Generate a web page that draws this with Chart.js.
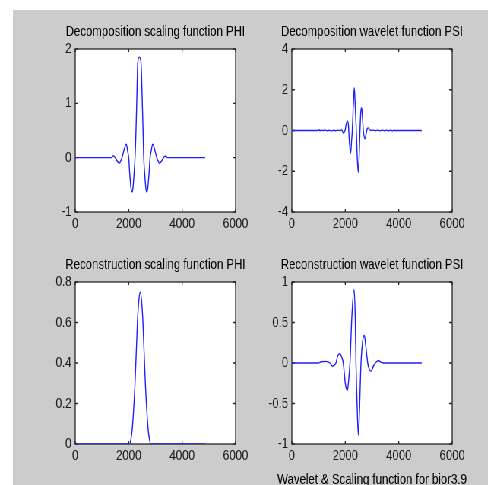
<!DOCTYPE html>
<html>
<head>
<meta charset="utf-8">
<script src="https://cdn.jsdelivr.net/npm/chart.js@4/dist/chart.umd.min.js"></script>
<style>
  html, body { margin: 0; padding: 0; background: #fff; overflow: hidden; width: 488px; height: 485px; }
  #bg { position: absolute; left: 13px; top: 10px; right: 0; bottom: 0; background: #cccccc; }
  /* the whole figure is squeezed horizontally, like the reference */
  #fig { position: absolute; left: 0; top: 0; width: 680px; height: 485px; transform: scaleX(0.76); transform-origin: 0 0; }
  #fig canvas { position: absolute; }
</style>
</head>
<body>
<div id="bg"></div>
<div id="fig">
  <canvas id="c1" width="331" height="249" style="left:39px;top:9px"></canvas>
  <canvas id="c2" width="331" height="249" style="left:324px;top:9px"></canvas>
  <canvas id="c3" width="331" height="248" style="left:39px;top:242px"></canvas>
  <canvas id="c4" width="331" height="248" style="left:324px;top:242px"></canvas>
</div>
<script>
// x ticks are shared by all four panels
const xTicks = [0, 2000, 4000, 6000];

// Decomposition scaling function PHI
const phiDecX = [0, 1350, 1413, 1500, 1580, 1650, 1700, 1750, 1840, 1912, 1960, 2000, 2040, 2090, 2125, 2160, 2200, 2237, 2270, 2300, 2340, 2400, 2460, 2510, 2540, 2563, 2600, 2640, 2675, 2710, 2760, 2800, 2840, 2900, 2960, 3050, 3100, 3150, 3220, 3300, 3390, 3450, 4860];
const phiDecY = [0, 0, 0.03, 0, -0.07, -0.1, -0.06, 0, 0.17, 0.25, 0.12, 0, -0.3, -0.58, -0.63, -0.55, -0.3, 0, 0.45, 1.0, 1.75, 1.85, 1.75, 1.0, 0.45, 0, -0.3, -0.55, -0.63, -0.58, -0.3, 0, 0.12, 0.25, 0.17, 0, -0.06, -0.1, -0.07, 0, 0.03, 0, 0];
const phiDecTicks = [-1, 0, 1, 2];

// Decomposition wavelet function PSI
const psiDecX = [0, 980, 1020, 1060, 1100, 1150, 1250, 1320, 1400, 1480, 1560, 1640, 1720, 1800, 1870, 1925, 1990, 2040, 2087, 2120, 2150, 2200, 2230, 2262, 2300, 2337, 2370, 2412, 2450, 2487, 2520, 2550, 2580, 2612, 2645, 2675, 2737, 2780, 2820, 2862, 2900, 2960, 3050, 3130, 3200, 3300, 3380, 3460, 3540, 3620, 3700, 3760, 3800, 3830, 4860];
const psiDecY = [0, 0, 0.04, -0.02, 0.03, 0, 0.02, -0.015, 0.015, -0.02, 0.015, -0.015, 0.02, -0.01, 0.03, -0.12, 0, 0.35, 0.46, 0.2, -0.5, -1.12, -0.6, 0, 1.2, 2.1, 1.3, 0, -1.4, -2.06, -1.2, 0, 0.9, 1.12, 0.6, 0, -0.41, -0.15, 0.08, 0.13, 0.05, 0.01, 0.02, -0.01, 0.02, -0.015, 0.02, -0.015, 0.02, -0.02, 0.03, -0.03, 0.02, 0, 0];
const psiDecTicks = [-4, -2, 0, 2, 4];

// Reconstruction scaling function PHI
const phiRecX = [0, 2030, 2080, 2130, 2180, 2230, 2297, 2330, 2380, 2430, 2480, 2530, 2563, 2630, 2680, 2730, 2780, 2830, 4860];
const phiRecY = [0, 0, 0.02, 0.07, 0.16, 0.28, 0.5, 0.61, 0.71, 0.75, 0.71, 0.61, 0.5, 0.28, 0.16, 0.07, 0.02, 0, 0];
const phiRecTicks = [0, 0.2, 0.4, 0.6, 0.8];

// Reconstruction wavelet function PSI
const psiRecX = [0, 990, 1100, 1250, 1380, 1450, 1520, 1580, 1650, 1720, 1800, 1870, 1925, 2000, 2075, 2130, 2175, 2250, 2325, 2370, 2400, 2450, 2488, 2530, 2588, 2650, 2713, 2770, 2838, 2900, 2963, 3050, 3125, 3238, 3330, 3425, 4860];
const psiRecY = [0, 0, 0.015, 0.02, 0.01, -0.01, -0.04, -0.03, 0, 0.09, 0.115, 0.07, 0, -0.25, -0.34, -0.2, 0, 0.6, 0.906, 0.6, 0, -0.6, -0.89, -0.6, 0, 0.27, 0.34, 0.2, 0, -0.08, -0.1, -0.04, 0, 0.03, 0.01, 0, 0];
const psiRecTicks = [-1, -0.5, 0, 0.5, 1];

const FONT = '"Liberation Sans", Arial, Helvetica, sans-serif';

// white plot box with inward tick marks, MATLAB style
const boxPlugin = {
  id: 'box',
  beforeDatasetsDraw(chart) {
    const { ctx, chartArea: a, scales } = chart;
    ctx.save();
    ctx.fillStyle = '#fff';
    ctx.fillRect(a.left, a.top, a.width, a.height);
    ctx.strokeStyle = '#262626';
    ctx.lineWidth = 1.3;
    ctx.strokeRect(a.left, a.top, a.width, a.height);
    ctx.beginPath();
    scales.x.ticks.forEach(t => {
      const px = scales.x.getPixelForValue(t.value);
      ctx.moveTo(px, a.bottom); ctx.lineTo(px, a.bottom - 3);
      ctx.moveTo(px, a.top); ctx.lineTo(px, a.top + 3);
    });
    scales.y.ticks.forEach(t => {
      const py = scales.y.getPixelForValue(t.value);
      ctx.moveTo(a.left, py); ctx.lineTo(a.left + 4, py);
      ctx.moveTo(a.right, py); ctx.lineTo(a.right - 4, py);
    });
    ctx.stroke();
    ctx.restore();
  }
};

function makeChart(id, title, xs, ys, yTicks, xTitle) {
  const pts = xs.map((x, i) => ({ x: x, y: ys[i] }));
  return new Chart(document.getElementById(id), {
    type: 'line',
    data: {
      datasets: [{
        data: pts,
        borderColor: '#1f1fff',
        borderWidth: 1.4,
        pointRadius: 0,
        cubicInterpolationMode: 'monotone',
        fill: false
      }]
    },
    options: {
      responsive: false,
      animation: false,
      layout: { autoPadding: false },
      plugins: {
        legend: { display: false },
        tooltip: { enabled: false },
        title: {
          display: true,
          text: title,
          color: '#000',
          font: { family: FONT, size: 15, weight: 'normal' },
          padding: { top: 14, bottom: 8 }
        },
        subtitle: {
          display: !!xTitle,
          position: 'bottom',
          text: xTitle || '',
          color: '#000',
          font: { family: FONT, size: 15, weight: 'normal', lineHeight: '20px' },
          padding: 0
        }
      },
      scales: {
        x: {
          type: 'linear',
          min: xTicks[0],
          max: xTicks[xTicks.length - 1],
          afterFit: s => { s.height = xTitle ? 26 : 46; },
          afterBuildTicks: s => { s.ticks = xTicks.map(v => ({ value: v })); },
          grid: { display: false, drawTicks: false },
          border: { display: false },
          ticks: {
            color: '#1a1a1a',
            padding: 3,
            maxRotation: 0,
            font: { family: FONT, size: 15 },
            callback: v => String(v)
          }
        },
        y: {
          min: yTicks[0],
          max: yTicks[yTicks.length - 1],
          afterFit: s => { s.width = 60; },
          afterBuildTicks: s => { s.ticks = yTicks.map(v => ({ value: v })); },
          grid: { display: false, drawTicks: false },
          border: { display: false },
          ticks: {
            color: '#1a1a1a',
            padding: 5,
            font: { family: FONT, size: 15 },
            callback: v => String(v)
          }
        },
        // empty right axis, keeps the plot centred under its title
        yRight: {
          position: 'right',
          afterFit: s => { s.width = 60; },
          grid: { display: false, drawTicks: false },
          border: { display: false },
          ticks: { display: false }
        }
      }
    },
    plugins: [boxPlugin]
  });
}

makeChart('c1', 'Decomposition scaling function PHI', phiDecX, phiDecY, phiDecTicks);
makeChart('c2', 'Decomposition wavelet function PSI', psiDecX, psiDecY, psiDecTicks);
makeChart('c3', 'Reconstruction scaling function PHI', phiRecX, phiRecY, phiRecTicks);
makeChart('c4', 'Reconstruction wavelet function PSI', psiRecX, psiRecY, psiRecTicks, 'Wavelet & Scaling function for bior3.9');
</script>
</body>
</html>
